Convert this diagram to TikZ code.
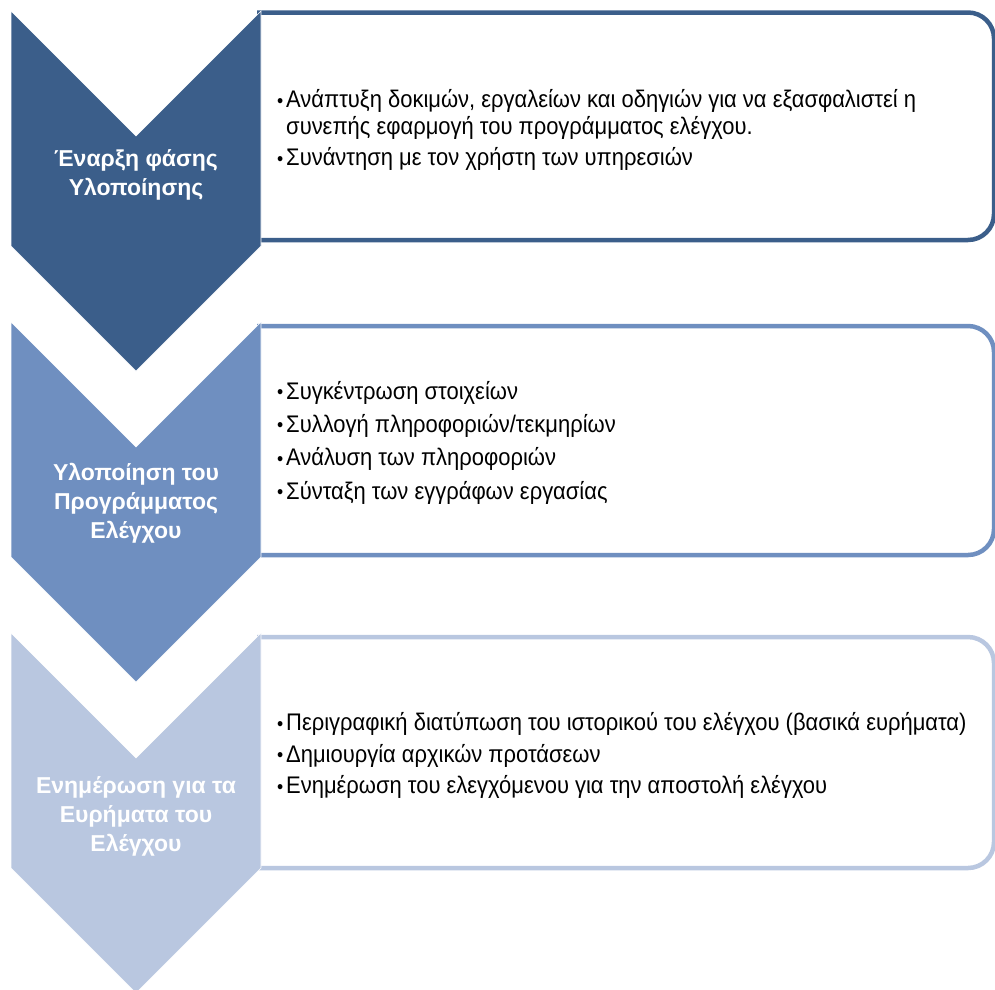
\documentclass[tikz,border=0pt]{standalone}
\usepackage{fontspec}
\setmainfont{Liberation Sans}
\newfontfamily\narrowfont[FakeStretch=0.915]{Liberation Sans}
\definecolor{cA}{RGB}{59,94,138}
\definecolor{cB}{RGB}{111,143,192}
\definecolor{cC}{RGB}{185,199,224}
\newcommand{\bul}{\makebox[10pt][l]{\hspace*{1pt}\raisebox{0.5pt}{\scalebox{0.8}{•}}}}
\newcommand{\ind}{\hspace*{10pt}}
\tikzset{
  chev/.style={fill=#1, draw=white, line width=0.6pt},
  boxline/.style={draw=#1, line width=4.5pt, fill=white, rounded corners=26pt},
  chevlabel/.style={text=white, font=\bfseries\fontsize{23}{29}\selectfont, align=center},
  boxtext/.style={anchor=west, align=left, inner sep=0pt, font=\narrowfont\fontsize{24}{27}\selectfont},
}
\begin{document}
\begin{tikzpicture}[x=1pt,y=-1pt]
\useasboundingbox (0,0) rectangle (995,989);
% boxes
\draw[boxline=cA] (257,12.5) -- (994,12.5) -- (994,240) -- (257,240);
\draw[boxline=cB] (257,326) -- (994,326) -- (994,555) -- (257,555);
\draw[boxline=cC] (257,637) -- (994,637) -- (994,868) -- (257,868);
% chevrons
\foreach \t/\c in {11/cA, 322/cB, 633/cC}{
  \fill[chev=\c] (11,\t) -- (136,\t+125) -- (261,\t) -- (261,\t+235) -- (136,\t+360) -- (11,\t+235) -- cycle;
}
% labels
\node[chevlabel] (l1) at (136,175) {Έναρξη φάσης\\Υλοποίησης};
\node[chevlabel] (l2) at (136,503) {Υλοποίηση του\\Προγράμματος\\Ελέγχου};
\node[chevlabel] (l3) at (136,816) {Ενημέρωση για τα\\Ευρήματα του\\Ελέγχου};
% box texts
\node[boxtext] (t1) at (276,130) {\bul Ανάπτυξη δοκιμών, εργαλείων και οδηγιών για να εξασφαλιστεί η\\
\ind συνεπής εφαρμογή του προγράμματος ελέγχου.\\[4pt]
\bul Συνάντηση με τον χρήστη των υπηρεσιών};
\node[boxtext, font=\narrowfont\fontsize{24}{33.3}\selectfont] (t2) at (276,442.5) {\bul Συγκέντρωση στοιχείων\\
\bul Συλλογή πληροφοριών/τεκμηρίων\\
\bul Ανάλυση των πληροφοριών\\
\bul Σύνταξη των εγγράφων εργασίας};
\node[boxtext, font=\narrowfont\fontsize{24}{31.5}\selectfont] (t3) at (276,755.5) {\bul Περιγραφική διατύπωση του ιστορικού του ελέγχου (βασικά ευρήματα)\\
\bul Δημιουργία αρχικών προτάσεων\\
\bul Ενημέρωση του ελεγχόμενου για την αποστολή ελέγχου};
\end{tikzpicture}
\end{document}
